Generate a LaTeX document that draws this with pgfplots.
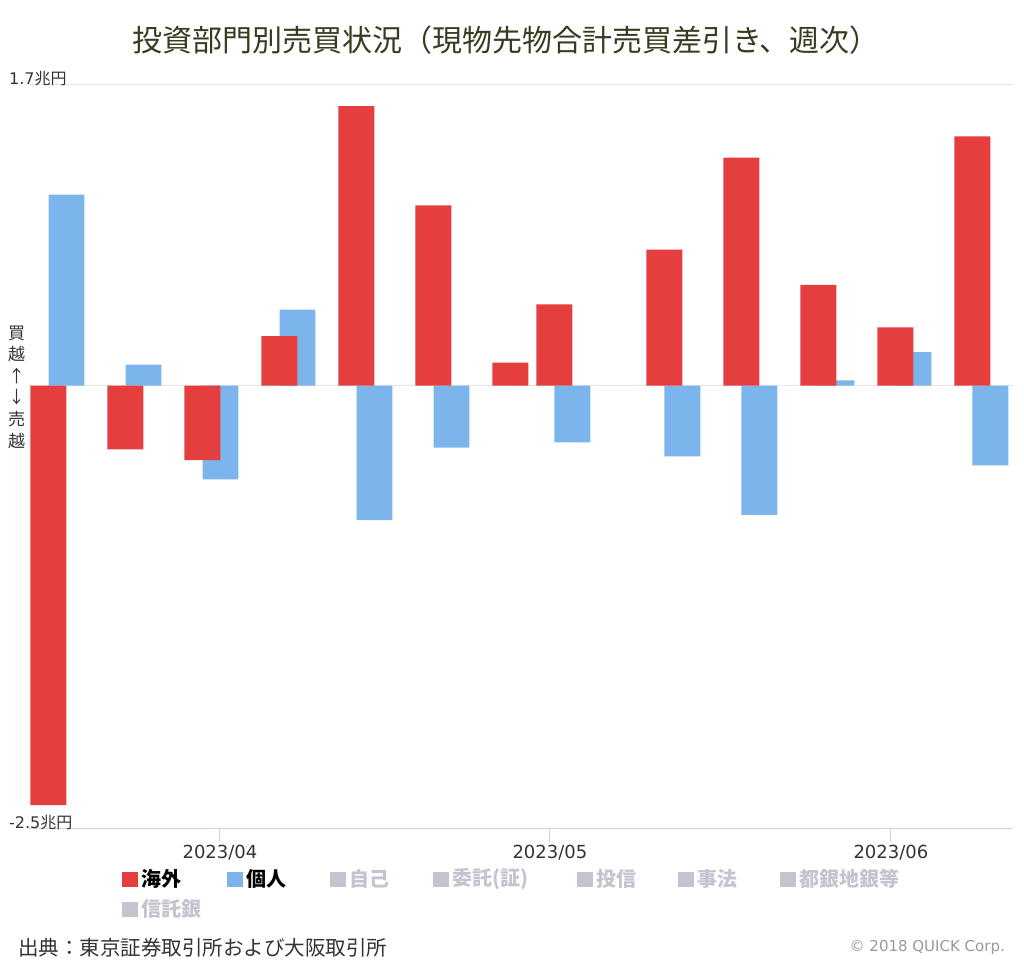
\documentclass[border=0pt]{standalone}
\usepackage{pgfplots}
\usepackage{pgfplotstable}
\pgfplotsset{compat=1.18}
\usepackage{fontspec}
\setmainfont{Noto Sans CJK JP}
\newfontfamily\lat{DejaVu Sans}

\definecolor{kaigai}{HTML}{E53E3E}
\definecolor{kojin}{HTML}{7CB5EC}
\definecolor{hid}{HTML}{C4C4D0}
\definecolor{titlec}{HTML}{3A3A20}
\definecolor{gridc}{HTML}{E6E6E6}
\definecolor{axisc}{HTML}{CCD6EB}
\definecolor{txt}{HTML}{333333}

% days counted from 2023-04-01; weekly (Friday) figures, 1e12 yen
\pgfplotstableread{
d   kaigai  kojin
-15 -2.37   1.08
-8  -0.36   0.12
-1  -0.42  -0.53
6    0.28   0.43
13   1.58  -0.76
20   1.02  -0.35
27   0.13   0.00
31   0.46  -0.32
41   0.77  -0.40
48   1.29  -0.73
55   0.57   0.03
62   0.33   0.19
69   1.41  -0.45
}\weekly

\newcommand\legitem[5]{%
  \fill[#3] (#1-28,828-#2-7.5) rectangle ++(16,15);
  \node[anchor=west, inner sep=0pt, text=#4,
        font=\bfseries\fontsize{20}{20}\selectfont] at (#1-28+19,828-#2) {#5};
}

\begin{document}
\begin{tikzpicture}[x=1pt,y=1pt]
\path[use as bounding box] (-28,-136) rectangle (996,828);
\begin{axis}[
  at={(0,0)}, anchor=south west,
  scale only axis, width=985pt, height=743pt,
  xmin=-17.45, xmax=72.1, ymin=-2.5, ymax=1.7,
  axis x line=bottom, axis y line=left,
  x axis line style={draw=axisc, line width=1pt, -},
  y axis line style={draw=none},
  xtick={0,30,61}, xticklabels={2023/04,2023/05,2023/06},
  xticklabel style={font=\lat\fontsize{18}{18}\selectfont, text=txt},
  ytick={-2.5,1.7}, yticklabels={{\lat -2.5}兆円,{\lat 1.7}兆円},
  yticklabel style={anchor=base west, xshift=-5pt, inner sep=0pt,
                    font=\fontsize{16}{16}\selectfont, text=txt},
  tick align=outside, major tick length=14pt,
  xtick style={draw=axisc, line width=1pt},
  ytick style={draw=none},
  ymajorgrids, grid style={draw=gridc, line width=1pt},
  extra y ticks={0}, extra y tick labels={},
  extra y tick style={grid=major, major grid style={draw=gridc, line width=1pt}, tick style={draw=none}},
]
\addplot[ybar, bar width=3.27, bar shift=1.05, fill=kojin, draw=none] table[x=d, y=kojin] {\weekly};
\addplot[ybar, bar width=3.27, bar shift=-0.6, fill=kaigai, draw=none] table[x=d, y=kaigai] {\weekly};
\end{axis}

\node[text=titlec, font=\fontsize{30}{30}\selectfont] at (478,788) {投資部門別売買状況（現物先物合計売買差引き、週次）};
\node[align=center, text=txt, font=\fontsize{17}{21.6}\selectfont] at (-11.3,441) {買\\越\\↑\\↓\\売\\越};

\legitem{122}{879}{kaigai}{black}{海外}
\legitem{227}{879}{kojin}{black}{個人}
\legitem{330}{879}{hid}{hid}{自己}
\legitem{433}{879}{hid}{hid}{委託(証)}
\legitem{577}{879}{hid}{hid}{投信}
\legitem{678}{879}{hid}{hid}{事法}
\legitem{780}{879}{hid}{hid}{都銀地銀等}
\legitem{122}{909}{hid}{hid}{信託銀}

\node[anchor=west, inner sep=0pt, text=txt, font=\fontsize{20.5}{20.5}\selectfont] at (-10,-120) {出典：東京証券取引所および大阪取引所};
\node[anchor=east, inner sep=0pt, text=gray!80, font=\lat\fontsize{15}{15}\selectfont] at (977,-119.5) {© 2018 QUICK Corp.};
\end{tikzpicture}
\end{document}
